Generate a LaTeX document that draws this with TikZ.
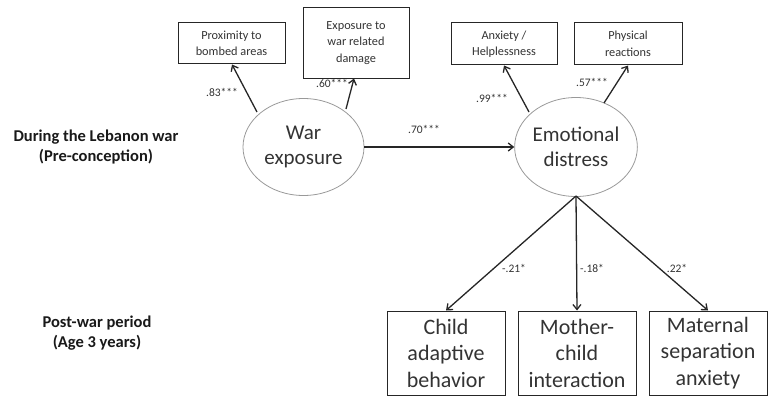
\documentclass[tikz,border=0pt]{standalone}
\usepackage{fontspec}
\setmainfont{Carlito}
\usetikzlibrary{shapes.geometric,arrows.meta}
\begin{document}
\begin{tikzpicture}[x=1pt,y=-1pt,
  smallbox/.style={draw=black!85,line width=1pt,rectangle,inner sep=0pt,align=center,font=\fontsize{12.3}{16.5}\selectfont,text=black!80},
  bigbox/.style={draw=black!85,line width=1pt,rectangle,inner sep=0pt,align=center,font=\fontsize{22}{26.5}\selectfont,text=black!80},
  latent/.style={draw=black!40,line width=0.8pt,ellipse,inner sep=0pt,align=center,font=\fontsize{21}{25}\selectfont,text=black!80},
  path/.style={-{Straight Barb[length=5pt,width=8pt]},line width=1.3pt,draw=black!85},
  coef/.style={font=\fontsize{11.5}{13}\selectfont,text=black!80,inner sep=0pt},
  period/.style={font=\bfseries\fontsize{16.5}{19.5}\selectfont,align=center,text=black!90}]
\useasboundingbox (0,0) rectangle (768,396);
% latent variables
\node[latent,minimum width=121pt,minimum height=97pt] (war) at (303.5,147) {War\\exposure};
\node[latent,minimum width=122pt,minimum height=99pt] (emo) at (576,147) {Emotional\\distress};
% indicators
\node[smallbox,minimum width=107pt,minimum height=41pt] (prox) at (231.5,43.5) {Proximity to\\bombed areas};
\node[smallbox,minimum width=106pt,minimum height=70pt] (expo) at (356,43) {Exposure to\\war related\\damage};
\node[smallbox,minimum width=106pt,minimum height=42pt] (anx) at (504,44) {Anxiety /\\Helplessness};
\node[smallbox,minimum width=108pt,minimum height=42pt] (phys) at (628,44) {Physical\\reactions};
% outcomes
\node[bigbox,minimum width=118pt,minimum height=84pt] (child) at (446,353) {Child\\adaptive\\behavior};
\node[bigbox,minimum width=118pt,minimum height=84pt] (mother) at (577,353) {Mother-\\child\\interaction};
\node[bigbox,minimum width=118pt,minimum height=84pt] (matsep) at (708,353) {Maternal\\separation\\anxiety};
% period labels
\node[period] (pre) at (96,147) {During the Lebanon war\\(Pre-conception)};
\node[period] (post) at (97,333) {Post-war period\\(Age 3 years)};
% coordinates on ellipses
\coordinate (w1) at (257,112);
\coordinate (w2) at (346,109);
\coordinate (e1) at (529,112);
\coordinate (e2) at (604,103);
\coordinate (eb) at (576,196);
% paths
\draw[path] (w1) -- (prox.south -| 232,0);
\draw[path] (w2) -- (expo.south -| 354,0);
\draw[path] (e1) -- (anx.south);
\draw[path] (e2) -- (phys.south);
\draw[path] (war.east) -- (emo.west);
\draw[path] (eb) -- (child.north);
\draw[path] (eb) -- (mother.north);
\draw[path] (eb) -- (matsep.north);
% coefficients
\node[coef] (c1) at (222,92) {.83***};
\node[coef] (c2) at (332,83) {.60***};
\node[coef] (c3) at (492,98) {.99***};
\node[coef] (c4) at (592,82) {.57***};
\node[coef] (c5) at (424,129) {.70***};
\node[coef] (c6) at (514,268) {-.21*};
\node[coef] (c7) at (592,268) {-.18*};
\node[coef] (c8) at (677,268) {.22*};
\end{tikzpicture}
\end{document}
